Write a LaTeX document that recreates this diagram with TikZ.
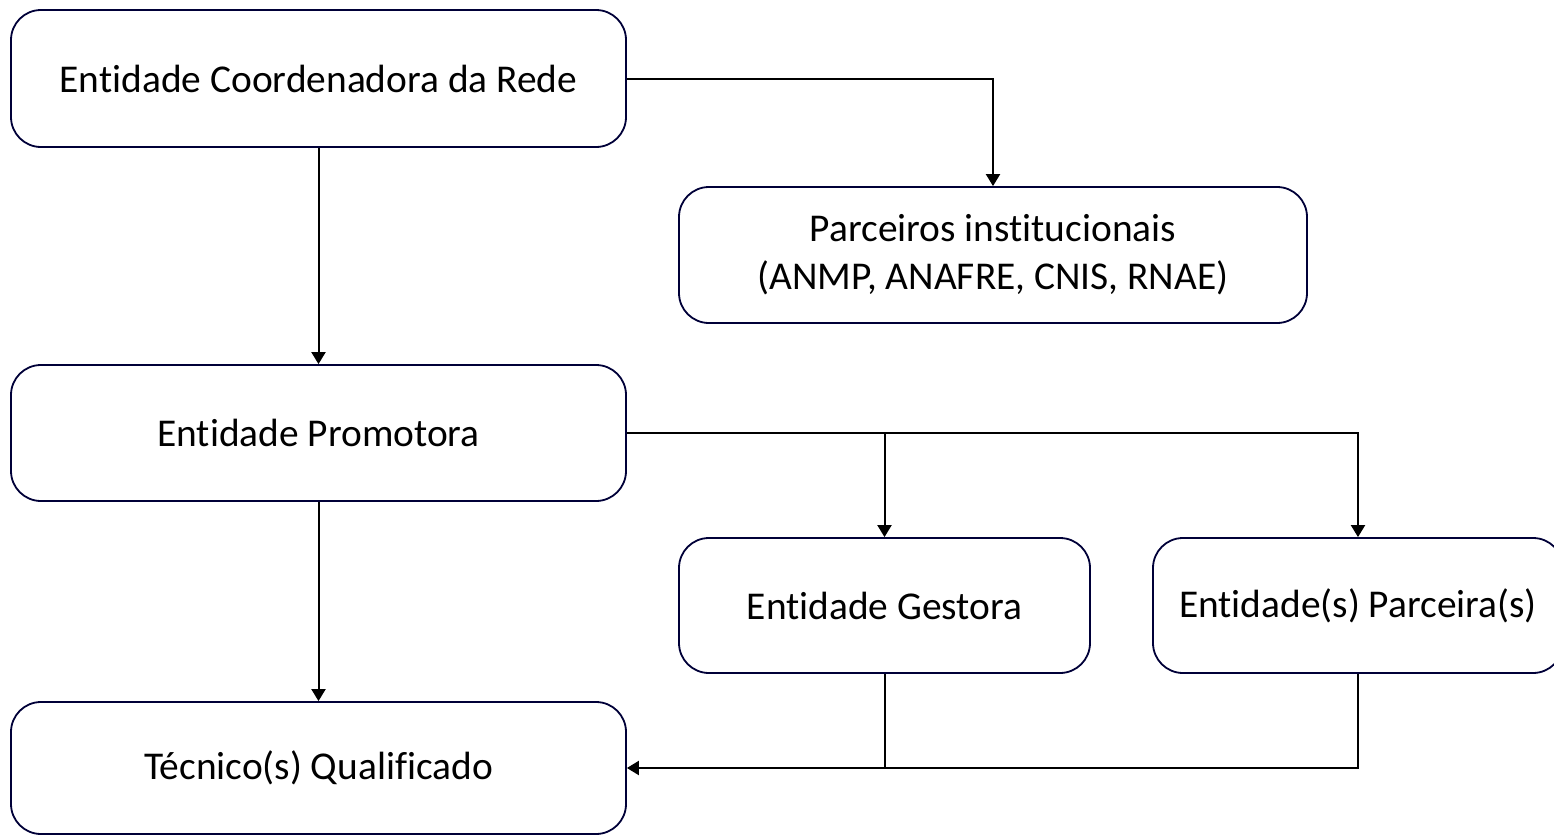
\documentclass[tikz,border=0pt]{standalone}
\usepackage{fontspec}
\setmainfont[Ligatures=NoCommon]{Carlito}
\usetikzlibrary{arrows.meta}

\begin{document}
\begin{tikzpicture}[x=0.5pt,y=-0.5pt]
\tikzstyle{entity}=[draw=black!60!blue!55!black,line width=0.9pt,rounded corners=15pt,fill=white,align=center,font=\fontsize{19.7}{24}\selectfont,inner sep=0pt]
\tikzstyle{link}=[line width=1pt,-{Triangle[width=7pt,length=6pt]}]
\clip (0,0) rectangle (1554,835);
\node[entity,minimum width=307.5pt,minimum height=68.5pt] (coord) at (318.5,78.5) {Entidade Coordenadora da Rede};
\node[entity,minimum width=314pt,minimum height=68pt] (parc) at (993,255) {Parceiros institucionais\\(ANMP, ANAFRE, CNIS, RNAE)};
\node[entity,minimum width=307.5pt,minimum height=68pt] (prom) at (318.5,433) {Entidade Promotora};
\node[entity,minimum width=205.5pt,minimum height=67.5pt] (gest) at (884.5,605.5) {Entidade Gestora};
\node[entity,minimum width=205pt,minimum height=67.5pt] (parcs) at (1358,605.5) {Entidade(s) Parceira(s)};
\node[entity,minimum width=307.5pt,minimum height=66pt] (tec) at (318.5,768) {Técnico(s) Qualificado};
\coordinate (join) at (884.5,768);
\draw[link] (coord.east) -| (parc.north);
\draw[link] (coord.south) -- (prom.north);
\draw[link] (prom.east) -| (gest.north);
\draw[link] (prom.east) -| (parcs.north);
\draw[link] (prom.south) -- (tec.north);
\draw[line width=1pt] (gest.south) -- (join);
\draw[link] (parcs.south) |- (tec.east);
\end{tikzpicture}
\end{document}
